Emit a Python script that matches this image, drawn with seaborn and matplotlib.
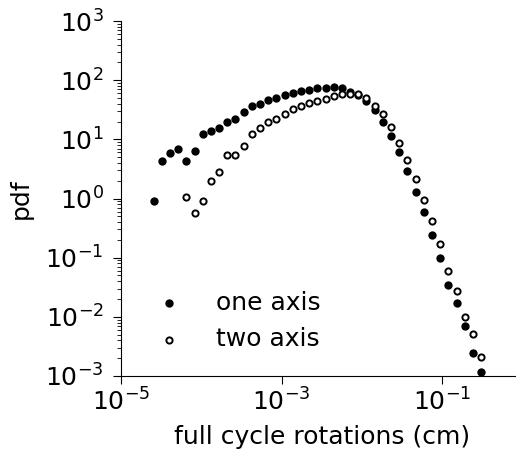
import numpy as np
import pandas as pd
import matplotlib
matplotlib.use('Agg')
import matplotlib.pyplot as plt
import matplotlib.ticker as mticker
import seaborn as sns

# bin centres (cm)
rotations = [2.55e-5, 3.22e-5, 4.07e-5, 5.15e-5, 6.52e-5, 8.22e-5, 1.04e-4, 1.315e-4,
             1.66e-4, 2.10e-4, 2.66e-4, 3.37e-4, 4.26e-4, 5.38e-4, 6.81e-4, 8.59e-4,
             1.087e-3, 1.374e-3, 1.738e-3, 2.20e-3, 2.78e-3, 3.52e-3, 4.45e-3, 5.62e-3,
             7.11e-3, 8.98e-3, 1.135e-2, 1.436e-2, 1.815e-2, 2.30e-2, 2.90e-2, 3.67e-2,
             4.65e-2, 5.87e-2, 7.43e-2, 9.38e-2, 0.1186, 0.150, 0.190, 0.240, 0.303]

pdf_one = [0.92, 4.35, 5.8, 6.8, 4.3, 6.3, 12.2, 14.0, 15.7, 19.4, 22.0, 28.6, 37.0,
           39.6, 46.0, 49.4, 56.0, 61.2, 66.8, 69.5, 72.9, 74.6, 75.2, 73.0, 64.3, 55.4,
           44.5, 31.0, 19.6, 11.4, 6.0, 2.97, 1.31, 0.59, 0.244, 0.1, 0.0345, 0.0173,
           0.0070, 0.00245, 0.00116]

# two axis starts at the 5th bin
pdf_two = [1.07, 0.57, 0.90, 1.95, 2.8, 5.4, 5.5, 7.7, 12.2, 15.4, 19.6, 21.8, 27.1,
           32.2, 36.3, 41.5, 45.3, 48.4, 54.0, 58.3, 59.5, 57.7, 50.6, 37.0, 26.5, 16.2,
           8.8, 4.5, 2.1, 0.955, 0.42, 0.172, 0.059, 0.0273, 0.0098, 0.0051, 0.00207]

df_one = pd.DataFrame({'x': rotations, 'pdf': pdf_one})
df_two = pd.DataFrame({'x': rotations[len(rotations) - len(pdf_two):], 'pdf': pdf_two})

plt.rcParams['font.size'] = 18

fig = plt.figure(figsize=(5.16, 4.49), dpi=100)
ax = fig.add_axes([0.2345, 0.1626, 0.7786, 0.7906])

sns.scatterplot(data=df_one, x='x', y='pdf', ax=ax, color='black', s=36,
                linewidth=0, label='one axis')
sns.scatterplot(data=df_two, x='x', y='pdf', ax=ax, facecolor='white',
                edgecolor='black', s=20, linewidth=1.4, label='two axis')

ax.set_xscale('log')
ax.set_yscale('log')
ax.set_xlim(1e-5, 1)
ax.set_ylim(1e-3, 1e3)
ax.set_xticks([1e-5, 1e-3, 1e-1])
ax.xaxis.set_minor_locator(mticker.NullLocator())
ax.yaxis.set_major_locator(mticker.LogLocator(base=10, numticks=10))
ax.yaxis.set_minor_locator(mticker.LogLocator(base=10, subs=np.arange(2, 10), numticks=20))
ax.yaxis.set_minor_formatter(mticker.NullFormatter())
ax.tick_params(which='major', labelsize=18, length=5.5)
ax.tick_params(which='minor', length=3)
ax.tick_params(axis='y', which='major', pad=7)

ax.set_xlabel('full cycle rotations (cm)', fontsize=18, labelpad=7)
ax.set_ylabel('pdf', fontsize=18, labelpad=9)
sns.despine(ax=ax)

ax.legend(loc='lower left', bbox_to_anchor=(0.002, 0.006), frameon=False,
          fontsize=18, markerscale=1.0, handletextpad=0.88, labelspacing=0.5)

fig.savefig('out.png', dpi=100)
